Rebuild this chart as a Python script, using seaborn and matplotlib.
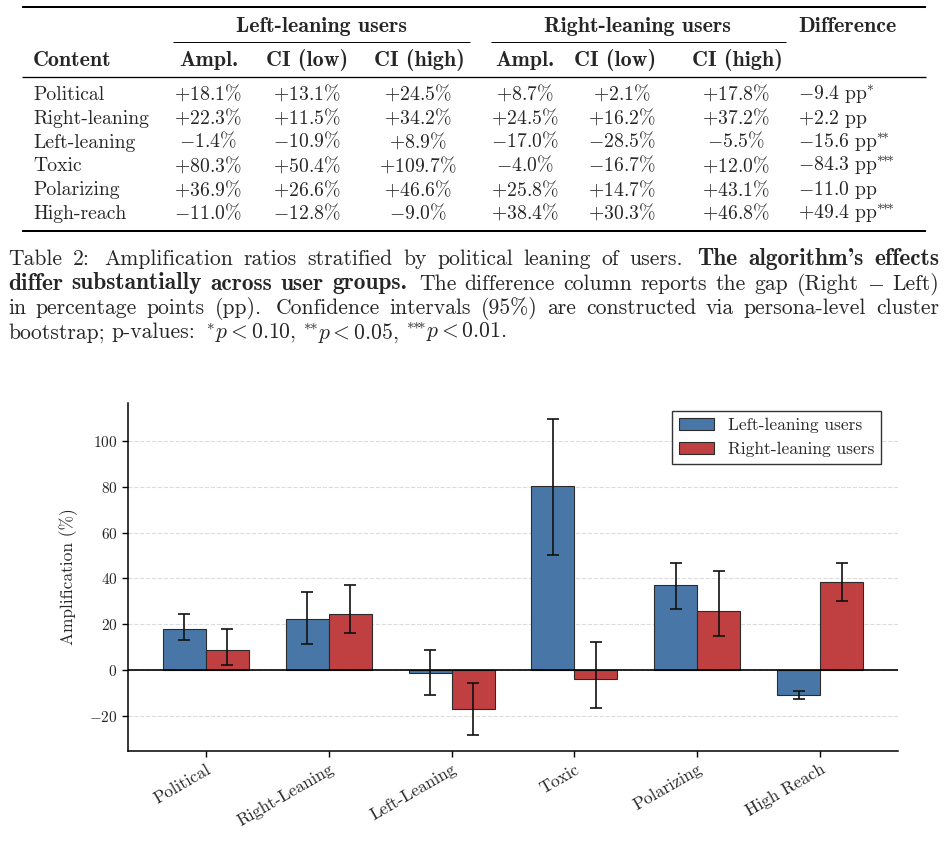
import matplotlib
matplotlib.use("Agg")
import matplotlib.pyplot as plt
from matplotlib.lines import Line2D
import seaborn as sns
import pandas as pd

# ---------------- data ----------------
categories = ["Political", "Right-Leaning", "Left-Leaning", "Toxic", "Polarizing", "High Reach"]
table_rows = ["Political", "Right-leaning", "Left-leaning", "Toxic", "Polarizing", "High-reach"]
groups = ["Left-leaning users", "Right-leaning users"]

left_ampl = [18.1, 22.3, -1.4, 80.3, 36.9, -11.0]
left_low = [13.1, 11.5, -10.9, 50.4, 26.6, -12.8]
left_high = [24.5, 34.2, 8.9, 109.7, 46.6, -9.0]

right_ampl = [8.7, 24.5, -17.0, -4.0, 25.8, 38.4]
right_low = [2.1, 16.2, -28.5, -16.7, 14.7, 30.3]
right_high = [17.8, 37.2, -5.5, 12.0, 43.1, 46.8]

diff_pp = [-9.4, 2.2, -15.6, -84.3, -11.0, 49.4]
diff_stars = [1, 0, 2, 3, 0, 3]

colors = ["#4877a7", "#c04041"]

# ---------------- style ----------------
sns.set_style("ticks")
plt.rcParams["font.family"] = ["cmr10"]
plt.rcParams["mathtext.fontset"] = "cm"
plt.rcParams["axes.formatter.use_mathtext"] = True
plt.rcParams["axes.unicode_minus"] = True

W, H = 947, 860
fig = plt.figure(figsize=(W / 100, H / 100), dpi=100)
renderer = fig.canvas.get_renderer()


def fx(x):
    return x / W


def fy(y):
    return 1 - y / H


FS = 14.2       # table body
FSB = 15.8      # table bold headers
FSC = 15.6      # caption
FSCB = 16.9     # caption bold
BOLD = "cmb10"
REG = "cmr10"


def hline(x0, x1, y, lw):
    fig.add_artist(Line2D([fx(x0), fx(x1)], [fy(y), fy(y)], transform=fig.transFigure,
                          color="black", lw=lw, solid_capstyle="butt"))


def sgn(v):
    return ("+" if v >= 0 else "-") + f"{abs(v):.1f}"


# ---------------- table ----------------
hline(22, 926, 7, 1.45)
hline(173, 470, 42, 0.7)
hline(491, 786, 42, 0.7)
hline(22, 926, 77, 0.95)
hline(22, 926, 231, 1.45)

fig.text(fx(321), fy(32), "Left-leaning users", family=BOLD, fontsize=FSB, ha="center", va="baseline")
fig.text(fx(637.5), fy(32), "Right-leaning users", family=BOLD, fontsize=FSB, ha="center", va="baseline")
fig.text(fx(798), fy(32), "Difference", family=BOLD, fontsize=FSB, ha="left", va="baseline")

fig.text(fx(33), fy(66), "Content", family=BOLD, fontsize=FSB, ha="left", va="baseline")
head_cols = [209, 307, 419, 525, 615, 737]
head_txt = ["Ampl.", "CI (low)", "CI (high)", "Ampl.", "CI (low)", "CI (high)"]
for cx, t in zip(head_cols, head_txt):
    fig.text(fx(cx), fy(66), t, family=BOLD, fontsize=FSB, ha="center", va="baseline")

data_cols = [208, 307, 418, 525, 622, 736]
row_y = [100, 123.8, 147.6, 171.4, 195.2, 219]
for i, name in enumerate(table_rows):
    y = row_y[i]
    fig.text(fx(33), fy(y), name, family=REG, fontsize=FS, ha="left", va="baseline")
    vals = [left_ampl[i], left_low[i], left_high[i], right_ampl[i], right_low[i], right_high[i]]
    for cx, v in zip(data_cols, vals):
        fig.text(fx(cx), fy(y), r"$" + sgn(v) + r"\%$", fontsize=FS, ha="center", va="baseline")
    n = diff_stars[i]
    stars = r"\!".join(["{*}"] * n)
    s = r"$" + sgn(diff_pp[i]) + r"\ \mathrm{pp}" + (r"^{" + stars + r"}" if n else "") + r"$"
    fig.text(fx(798), fy(y), s, fontsize=FS, ha="left", va="baseline")

# ---------------- caption (justified) ----------------
cap_lines = [
    ([("Table", REG), ("2:", REG), ("Amplification", REG), ("ratios", REG), ("stratified", REG),
      ("by", REG), ("political", REG), ("leaning", REG), ("of", REG), ("users.", REG),
      ("The", BOLD), ("algorithm's", BOLD), ("effects", BOLD)], True),
    ([("differ", BOLD), ("substantially", BOLD), ("across", BOLD), ("user", BOLD), ("groups.", BOLD),
      ("The", REG), ("difference", REG), ("column", REG), ("reports", REG), ("the", REG),
      ("gap", REG), ("(Right", REG), (r"$-$", REG), ("Left)", REG)], True),
    ([("in", REG), ("percentage", REG), ("points", REG), ("(pp).", REG), ("Confidence", REG),
      ("intervals", REG), ("(95%)", REG), ("are", REG), ("constructed", REG), ("via", REG),
      ("persona-level", REG), ("cluster", REG)], True),
    ([("bootstrap;", REG), ("p-values:", REG), (r"$^{*}p<0.10$,", REG), (r"$^{{*}\!{*}}p<0.05$,", REG),
      (r"$^{{*}\!{*}\!{*}}p<0.01$.", REG)], False),
]
cap_y = [265, 289.5, 314, 338.5]
X0, X1 = 8, 939
for (segs, just), y in zip(cap_lines, cap_y):
    texts = [fig.text(0, fy(y), w, family=f, fontsize=(FSCB if f == BOLD else FSC),
                      ha="left", va="baseline") for w, f in segs]
    widths = [t.get_window_extent(renderer).width for t in texts]
    weights = [1.4 if w.endswith((".", ":")) else 1.0 for w, f in segs[:-1]]
    if just:
        gap_unit = (X1 - X0 - sum(widths)) / sum(weights)
    else:
        gap_unit = FSC * 100 / 72 * 0.333
    x = X0
    for k, t in enumerate(texts):
        t.set_x(fx(x))
        x += widths[k]
        if k < len(weights):
            x += gap_unit * weights[k]

# ---------------- bar chart ----------------
df = pd.DataFrame({
    "Content": categories * 2,
    "Amplification": left_ampl + right_ampl,
    "Group": [groups[0]] * len(categories) + [groups[1]] * len(categories),
})
lows = [left_low, right_low]
highs = [left_high, right_high]
ampls = [left_ampl, right_ampl]

ax = fig.add_axes([fx(128), fy(751), (898 - 128) / W, (751 - 403) / H])
sns.barplot(data=df, x="Content", y="Amplification", hue="Group", order=categories,
            hue_order=groups, palette=colors, saturation=1, width=0.7,
            edgecolor="#2b2b2b", linewidth=0.8, errorbar=None, ax=ax)

bar_conts = list(ax.containers)
for j, cont in enumerate(bar_conts):
    xs = [b.get_x() + b.get_width() / 2 for b in cont]
    ys = ampls[j]
    err_lo = [a - l for a, l in zip(ys, lows[j])]
    err_hi = [h - a for a, h in zip(ys, highs[j])]
    ax.errorbar(xs, ys, yerr=[err_lo, err_hi], fmt="none", ecolor="#111111",
                elinewidth=1.2, capsize=4, capthick=1.2, zorder=4)

ax.axhline(0, color="black", lw=1.2, zorder=3)
ax.set_xlim(-0.635, len(categories) - 1 + 0.635)
ax.yaxis.grid(True, linestyle="--", color="#dcdcdc", lw=0.8)
ax.set_axisbelow(True)
sns.despine(ax=ax)
for sp in ("left", "bottom"):
    ax.spines[sp].set_linewidth(1.1)
    ax.spines[sp].set_color("black")
ax.tick_params(axis="both", length=4, width=1, color="black")
ax.tick_params(axis="y", labelsize=11)
ax.tick_params(axis="x", labelsize=12.5)
ax.set_xlabel("")
ax.set_ylabel("Amplification (%)", fontsize=12.5, labelpad=8)
for lab in ax.get_xticklabels():
    lab.set_rotation(30)
    lab.set_ha("right")
    lab.set_rotation_mode("anchor")

leg = ax.legend(loc="upper right", bbox_to_anchor=(0.978, 0.977), fontsize=12.5,
                fancybox=False, framealpha=1, edgecolor="#333333", borderaxespad=0,
                handlelength=2.0)
leg.get_frame().set_linewidth(1.0)

fig.savefig("out.png", dpi=100)
